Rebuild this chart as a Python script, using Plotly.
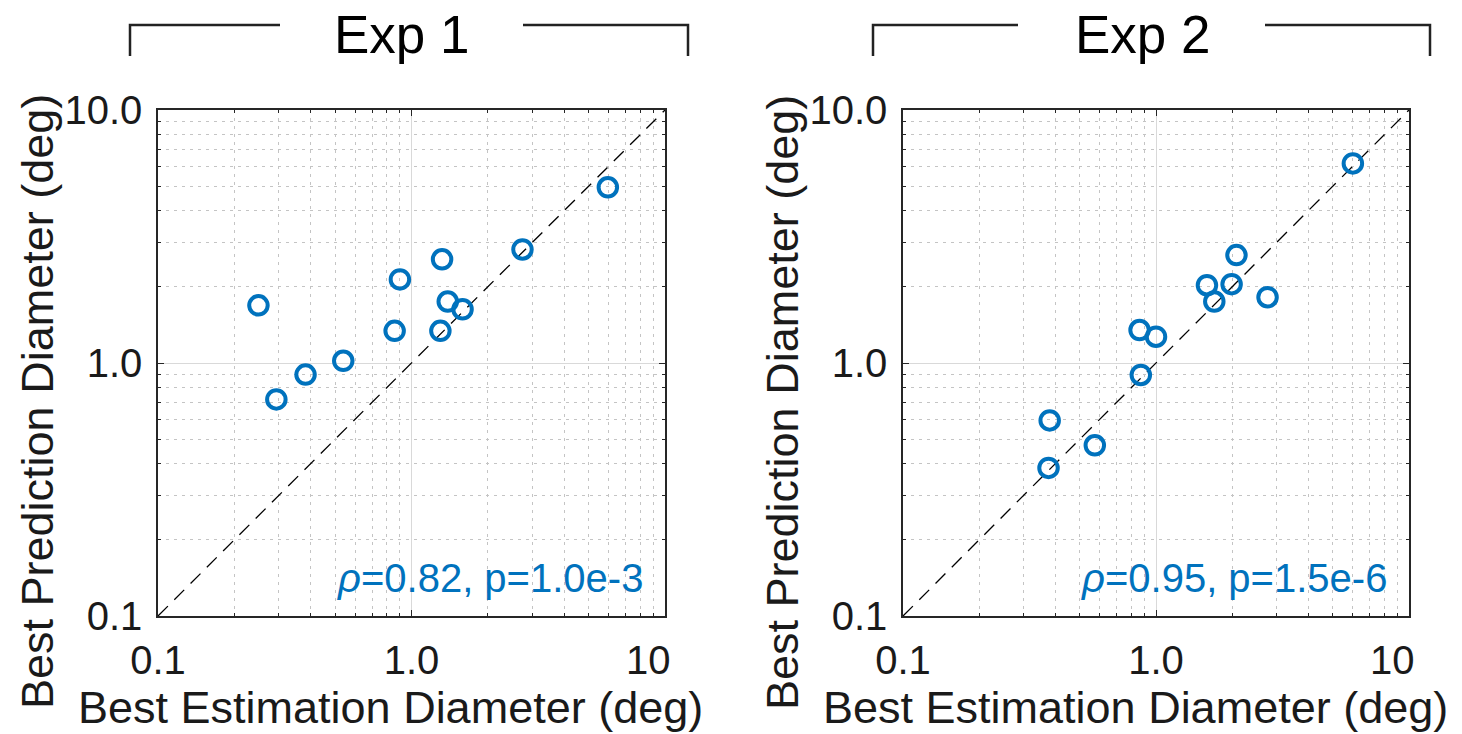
import plotly.graph_objects as go

# ---------------- data ----------------
exp1_estimation = [5.95, 2.74, 1.32, 0.90, 0.249, 1.39, 1.59, 0.858, 1.30, 0.538, 0.382, 0.293]
exp1_prediction = [4.95, 2.81, 2.57, 2.14, 1.69, 1.75, 1.63, 1.34, 1.34, 1.02, 0.90, 0.718]

exp2_estimation = [6.0, 2.08, 1.59, 1.99, 1.70, 2.76, 0.861, 1.0, 0.871, 0.380, 0.573, 0.376]
exp2_prediction = [6.15, 2.67, 2.03, 2.05, 1.75, 1.82, 1.35, 1.27, 0.897, 0.593, 0.473, 0.385]

panel_titles = ["Exp 1", "Exp 2"]
stats_text = ["<i>ρ</i>=0.82, p=1.0e-3", "<i>ρ</i>=0.95, p=1.5e-6"]
axis_limits = [0.1, 10]
major_ticks = [0.1, 1, 10]
x_tick_text = ["0.1", "1.0", "10\u00a0\u00a0\u00a0"]
y_tick_text = ["0.1", "1.0", "10.0"]
minor_ticks = [m * d for d in (0.1, 1) for m in range(2, 10)]
x_title = "Best Estimation Diameter (deg)"
y_title = "Best Prediction Diameter (deg)"

# ---------------- style ----------------
W, H = 1462, 734
FONT = "Liberation Sans, Arial, Helvetica, sans-serif"
BLUE = "#0072BD"
AX = "#262626"

def px(x):
    return x / W

def py(y):
    return 1 - y / H

panels = [
    dict(left=158, right=665, top=110, bottom=616,
         x=exp1_estimation, y=exp1_prediction,
         br=(130, 280, 523, 688), title_x=402),
    dict(left=903, right=1409, top=110, bottom=616,
         x=exp2_estimation, y=exp2_prediction,
         br=(873, 1018, 1265, 1430), title_x=1143),
]

fig = go.Figure()
layout = dict(
    template="none",
    width=W, height=H, autosize=False,
    margin=dict(l=0, r=0, t=0, b=0, pad=0, autoexpand=False),
    paper_bgcolor="white", plot_bgcolor="white",
    showlegend=False,
    font=dict(family=FONT, color="#1a1a1a"),
    annotations=[], shapes=[],
)

for i, p in enumerate(panels):
    n = "" if i == 0 else str(i + 1)
    xa, ya = "x" + n, "y" + n

    # identity line
    fig.add_trace(go.Scatter(
        x=axis_limits, y=axis_limits, mode="lines", xaxis=xa, yaxis=ya,
        line=dict(color="black", width=1.3, dash="14px,9px"),
        hoverinfo="skip"))
    # points
    fig.add_trace(go.Scatter(
        x=p["x"], y=p["y"], mode="markers", xaxis=xa, yaxis=ya,
        marker=dict(symbol="circle-open", size=18.5, color=BLUE,
                    line=dict(width=4, color=BLUE))))

    common = dict(
        type="log", range=[-1, 1], showline=True, linecolor=AX, linewidth=1.5,
        mirror="allticks", ticks="inside", ticklen=6, tickcolor=AX, tickwidth=1,
        tickvals=major_ticks, showgrid=True, gridcolor="#d9d9d9", gridwidth=1,
        tickfont=dict(size=40, family=FONT, color="#1a1a1a"),
        minor=dict(tickvals=minor_ticks, ticks="inside", ticklen=3.5,
                   tickcolor=AX, showgrid=True, gridcolor="#c4c4c4",
                   griddash="3px,5px", gridwidth=1),
        zeroline=False, fixedrange=True, automargin=False,
    )
    layout["xaxis" + n] = dict(
        common, domain=[px(p["left"]), px(p["right"])], anchor=ya,
        ticktext=x_tick_text, ticklabelstandoff=8)
    layout["yaxis" + n] = dict(
        common, domain=[py(p["bottom"]), py(p["top"])], anchor=xa,
        ticktext=y_tick_text, ticklabelstandoff=6)

    # stats annotation
    layout["annotations"].append(dict(
        text=stats_text[i], xref="paper", yref="paper",
        x=px(p["right"] - 20), y=py(578), xanchor="right", yanchor="middle",
        showarrow=False, font=dict(size=40, color=BLUE, family=FONT)))
    # axis titles
    layout["annotations"].append(dict(
        text=x_title, xref="paper", yref="paper",
        x=px(p["left"] - 21 + (p["right"] - p["left"]) / 2), y=py(707),
        xanchor="center", yanchor="middle", showarrow=False,
        font=dict(size=45, family=FONT, color="#1a1a1a")))
    layout["annotations"].append(dict(
        text=y_title, xref="paper", yref="paper", textangle=-90,
        x=px(p["left"] - 121), y=py(402),
        xanchor="center", yanchor="middle", showarrow=False,
        font=dict(size=45, family=FONT, color="#1a1a1a")))
    # panel title
    layout["annotations"].append(dict(
        text=panel_titles[i], xref="paper", yref="paper",
        x=px(p["title_x"]), y=py(35), xanchor="center", yanchor="middle",
        showarrow=False, font=dict(size=53, family=FONT, color="black")))
    # bracket
    a, b, c, d = p["br"]
    for path in (f"M {px(a)},{py(56)} L {px(a)},{py(25)} L {px(b)},{py(25)}",
                 f"M {px(c)},{py(25)} L {px(d)},{py(25)} L {px(d)},{py(56)}"):
        layout["shapes"].append(dict(
            type="path", xref="paper", yref="paper", path=path,
            line=dict(color="#222222", width=2.5)))

fig.update_layout(**layout)
fig.write_html("out.html")
